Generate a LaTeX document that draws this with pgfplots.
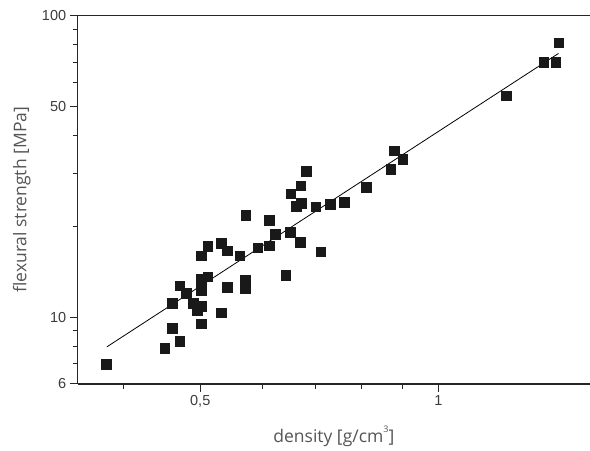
\documentclass[border=0pt]{standalone}
\usepackage{fontspec}
\setmainfont{Liberation Sans}
\newfontfamily\labelfont{Open Sans}
\usepackage{pgfplots}
\pgfplotsset{compat=1.18}
\definecolor{txt}{RGB}{85,85,85}
\definecolor{ticktxt}{RGB}{60,60,60}
\definecolor{pts}{RGB}{25,25,25}
\begin{document}
\begin{tikzpicture}
\useasboundingbox (0,0) rectangle (590bp,451bp);
\begin{axis}[
  at={(77.7bp,67bp)}, anchor=south west,
  scale only axis, width=512.3bp, height=368.3bp,
  xmode=log, ymode=log,
  xmin=0.35, xmax=1.555, ymin=6, ymax=100,
  axis x line*=box, axis y line*=left,
  axis line style={black!85, line width=1.1bp},
  xtick pos=bottom, ytick pos=left,
  tick align=outside,
  major tick length=8bp, minor tick length=5bp,
  every tick/.style={black!85, line width=1bp},
  xtick={0.5,1}, xticklabels={{0,5},{1}},
  minor xtick={0.4,0.6,0.7,0.8,0.9},
  ytick={6,10,50,100}, yticklabels={6,10,50,100},
  minor ytick={7,8,9,20,30,40,60,70,80,90},
  tick label style={font=\fontsize{14.5bp}{16bp}\selectfont, text=ticktxt},
  xlabel={density [g/cm\raisebox{1.1ex}{\fontsize{9bp}{9bp}\selectfont 3}]},
  ylabel={flexural strength [MPa]},
  every axis x label/.style={at={(axis description cs:0.5,-0.1412)}, anchor=center, font=\labelfont\fontsize{17.5bp}{20bp}\selectfont, text=txt},
  every axis y label/.style={at={(axis description cs:-0.109,0.5)}, rotate=90, anchor=center, font=\labelfont\fontsize{17.5bp}{20bp}\selectfont, text=txt},
  clip=false,
]
\addplot[only marks, mark=square*, mark size=4.8bp, mark options={draw=pts, fill=pts}] coordinates {
(0.380,6.97) (0.451,7.89) (0.471,8.32) (0.461,9.19) (0.501,9.50)
(0.531,10.33) (0.461,11.13) (0.480,11.98) (0.471,12.70) (0.490,11.13)
(0.496,10.55) (0.501,10.88) (0.501,12.29) (0.501,13.34) (0.511,13.61)
(0.541,12.58) (0.570,13.3) (0.570,12.5) (0.501,15.98) (0.511,17.20)
(0.531,17.57) (0.541,16.60) (0.561,15.98)
(0.571,21.76) (0.611,20.94) (0.622,18.82) (0.650,19.15) (0.611,17.24)
(0.591,16.98) (0.669,17.70) (0.710,16.47) (0.641,13.79)
(0.681,30.52) (0.670,27.32) (0.651,25.70) (0.661,23.36) (0.671,23.85)
(0.700,23.23) (0.730,23.71) (0.760,24.08) (0.810,26.95) (0.870,30.99)
(0.880,35.62) (0.901,33.45)
(1.219,54.27) (1.359,70.0) (1.407,70.0) (1.419,81.4)
};
\addplot[black, line width=0.8bp] coordinates {(0.381,7.97) (1.419,75.0)};
\end{axis}
\end{tikzpicture}
\end{document}
